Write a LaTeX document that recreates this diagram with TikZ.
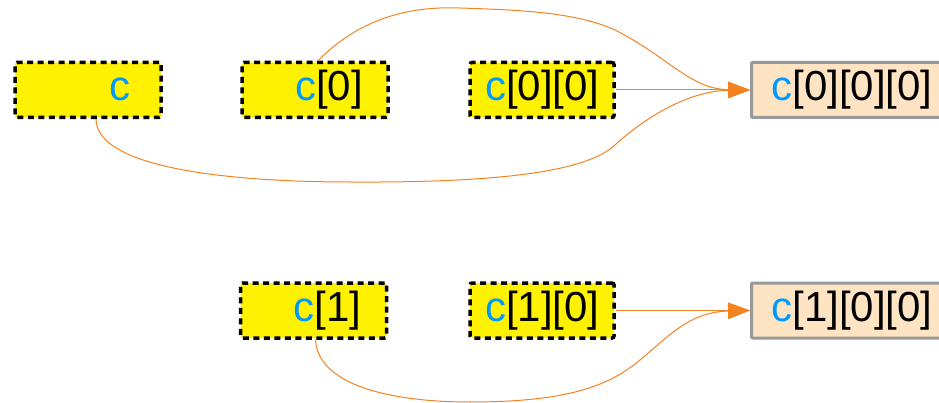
\documentclass[tikz,border=0pt]{standalone}
\usepackage{fontspec}
\setmainfont{Liberation Sans}
\usepackage{xcolor}
\usepackage{tikz}
\usetikzlibrary{arrows.meta}

\definecolor{cblue}{RGB}{0,153,255}
\definecolor{linkorange}{RGB}{245,130,32}
\definecolor{valgray}{RGB}{153,153,153}
\definecolor{valfill}{RGB}{255,228,196}
\newcommand{\cname}[1]{\textcolor{cblue}{c}#1}

\begin{document}
\begin{tikzpicture}[
    x=1pt, y=-1pt,
    ptrbox/.style={draw, fill=yellow, line width=3.5pt, dash pattern=on 6pt off 4.5pt,
                   rounded corners=2pt, minimum height=55pt, text width=96pt,
                   align=right, inner xsep=25pt, inner ysep=0pt,
                   text height=30pt, text depth=9pt, font=\fontsize{42}{46}\selectfont},
    valbox/.style={draw=valgray, fill=valfill, line width=3pt, rounded corners=1pt,
                   minimum height=55pt, inner xsep=20pt, inner ysep=0pt, anchor=west,
                   text height=30pt, text depth=9pt, font=\fontsize{42}{46}\selectfont},
    link/.style={draw=linkorange, line width=1pt, -{Triangle[length=22pt, width=16pt]}}
]
    \useasboundingbox (0,0) rectangle (939,403);
    \clip (0,0) rectangle (939,403);

    % first row
    \node[ptrbox, text width=84pt, inner xsep=31pt] (c) at (88,90) {\cname{}};
    \node[ptrbox] (c0)   at (315,90) {\cname{[0]}};
    \node[ptrbox, text width=114pt, inner xsep=15pt] (c00) at (542,90) {\cname{[0][0]}};
    \node[valbox] (c000) at (750,90) {\cname{[0][0][0]}};

    % second row
    \node[ptrbox] (c1)   at (313.5,310.5) {\cname{[1]}};
    \node[ptrbox, text width=114pt, inner xsep=15pt] (c10) at (542,310.5) {\cname{[1][0]}};
    \node[valbox] (c100) at (750,310.5) {\cname{[1][0][0]}};

    \draw[link] ([xshift=8pt]c.south) .. controls (97,172) and (250,182) .. (350,182)
        .. controls (520,183) and (590,168) .. (615,145)
        .. controls (640,122) and (685,91) .. (c000.west);
    \draw[link] ([xshift=3pt]c0.north) .. controls (360,18) and (410,6) .. (460,8)
        .. controls (520,10) and (575,12) .. (615,30)
        .. controls (670,58) and (690,89) .. (c000.west);
    \draw[link] (c00) -- (c000);
    \draw[link] ([xshift=2pt]c1.south) .. controls (318,385) and (390,402) .. (470,402)
        .. controls (570,402) and (610,385) .. (640,360)
        .. controls (670,335) and (690,312) .. (c100.west);
    \draw[link] (c10) -- (c100);
\end{tikzpicture}
\end{document}
